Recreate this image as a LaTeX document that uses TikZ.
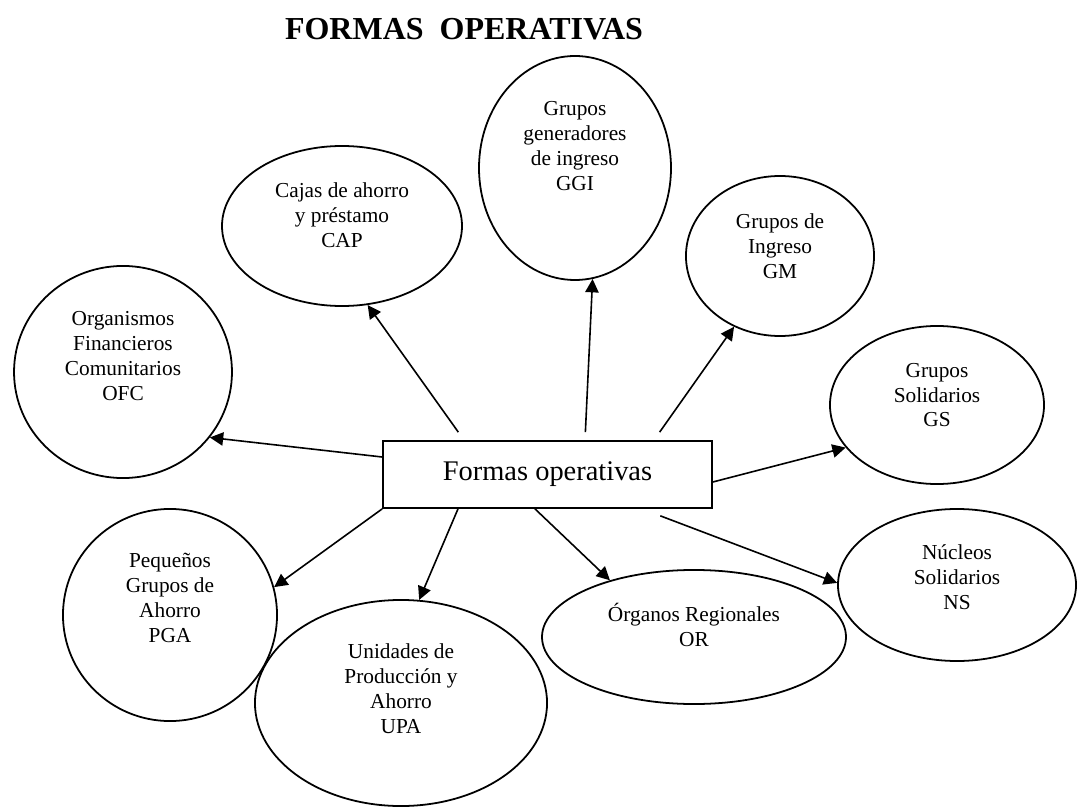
\documentclass[tikz,border=0pt]{standalone}
\usepackage{fontspec}
\setmainfont{Liberation Serif}
\usetikzlibrary{shapes.geometric,arrows.meta,positioning}
\tikzstyle{oval} = [draw=black, line width=1pt, ellipse, inner sep=0pt]
\tikzstyle{ovaltext} = [align=center, font=\fontsize{12}{14}\selectfont]
\tikzstyle{mainbox} = [draw=black, line width=1pt, rectangle,
    minimum width=185pt, minimum height=37.7pt, font=\fontsize{16}{19}\selectfont]
\tikzstyle{link} = [-{Triangle[length=7.5pt,width=7.5pt]}, line width=0.9pt]
\tikzstyle{bigtitle} = [font=\fontsize{18}{21}\selectfont\bfseries]

\begin{document}
\begin{tikzpicture}[x=0.5625pt, y=-0.5625pt]
    \fill[white] (0,0) rectangle (1079,808);
    \useasboundingbox (0,0) rectangle (1079,808);
    \node[bigtitle] (title) at (464,29) {FORMAS\ \ OPERATIVAS};
    \node[mainbox] (box) at (547.5,474.5) {Formas operativas};

    % ovals
    \node[oval, minimum width=122.6pt, minimum height=119.3pt] (ofc) at (123,372) {};
    \node[oval, minimum width=135pt, minimum height=90pt] (cap) at (342,226) {};
    \node[oval, minimum width=108pt, minimum height=126pt] (ggi) at (575,168) {};
    \node[oval, minimum width=105.8pt, minimum height=90pt] (gm) at (780,256) {};
    \node[oval, minimum width=120.4pt, minimum height=88.9pt] (gs) at (937,405) {};
    \node[oval, minimum width=133.9pt, minimum height=85.5pt] (ns) at (957,585) {};
    \node[oval, minimum width=171pt, minimum height=75.4pt] (org) at (694,637) {};
    \node[oval, minimum width=164.3pt, minimum height=115.9pt] (upa) at (401,703) {};
    \node[oval, minimum width=120.4pt, minimum height=119.3pt] (pga) at (170,615) {};

    % texts
    \node[ovaltext] (ofctext) at ([yshift=9pt]ofc.center) {Organismos\\ Financieros\\ Comunitarios\\ OFC};
    \node[ovaltext] (captext) at ([yshift=6.2pt]cap.center) {Cajas de ahorro\\ y préstamo\\ CAP};
    \node[ovaltext] (ggitext) at ([yshift=12.4pt]ggi.center) {Grupos\\ generadores\\ de ingreso\\ GGI};
    \node[ovaltext] (gmtext) at ([yshift=5.6pt]gm.center) {Grupos de\\ Ingreso\\ GM};
    \node[ovaltext] (gstext) at ([yshift=5.6pt]gs.center) {Grupos\\ Solidarios\\ GS};
    \node[ovaltext] (nstext) at ([yshift=4.5pt]ns.center) {Núcleos\\ Solidarios\\ NS};
    \node[ovaltext] (orgtext) at ([yshift=6.8pt]org.center) {Órganos Regionales\\ OR};
    \node[ovaltext] (upatext) at ([yshift=7.9pt]upa.center) {Unidades de\\ Producción y\\ Ahorro\\ UPA};
    \node[ovaltext] (pgatext) at ([yshift=9.6pt]pga.center) {Pequeños\\ Grupos de\\ Ahorro\\ PGA};

    % arrows
    \draw[link] (box.west |- 0,457) -- (ofc.-37);
    \draw[link, shorten <=5.5pt] (box.north -| 464,0) -- (cap.-72);
    \draw[link, shorten <=4.5pt] (box.north -| 585,0) -- (ggi.-81);
    \draw[link, shorten <=5.5pt] (box.north -| 654,0) -- (gm.-123);
    \draw[link] (box.east |- 0,482) -- (gs.-155);
    \draw[link, shorten <=11pt] (box.south -| 642,0) -- (ns.179);
    \draw[link] (box.south -| 535,0) -- (org.146);
    \draw[link] (box.south -| 458,0) -- (upa.80);
    \draw[link] (box.south west) -- (pga.15);
\end{tikzpicture}
\end{document}
